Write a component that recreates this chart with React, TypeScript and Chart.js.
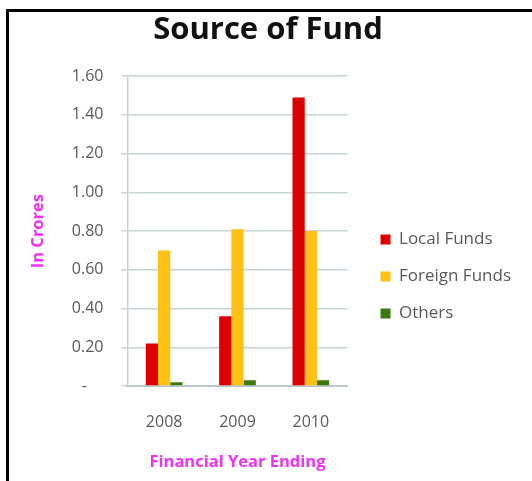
import React, { useEffect, useRef } from 'react';
import { Chart, registerables } from 'chart.js';

Chart.register(...registerables);

const years = ['2008', '2009', '2010'];
const localFunds = [0.22, 0.36, 1.49];
const foreignFunds = [0.7, 0.81, 0.8];
const others = [0.02, 0.03, 0.03];
const seriesNames = ['Local Funds', 'Foreign Funds', 'Others'];
const seriesColors = ['#DE0000', '#FFC114', '#3D7A0E'];
const yTickLabels = ['-', '0.20', '0.40', '0.60', '0.80', '1.00', '1.20', '1.40', '1.60'];
const Y_MAX = 1.6;
const Y_STEP = 0.2;

const FONT = "'Open Sans', 'DejaVu Sans', sans-serif";
const TEXT_GRAY = '#595959';
const GRID = '#C6D4D4';
const MAGENTA = '#F032F0';

const LEGEND_EXTRA = 5;
const LEGEND_DX = 13;
const LEGEND_DY = 36;

const legendNudge = {
  id: 'legendNudge',
  beforeLayout(chart: any) {
    const l = chart.legend;
    if (l && !l.__wrapped) {
      const orig = l.fit;
      l.fit = function () {
        orig.call(this);
        this.width += LEGEND_EXTRA;
      };
      l.__wrapped = true;
    }
  },
  afterLayout(chart: any) {
    const l = chart.legend;
    if (!l) return;
    l.left += LEGEND_DX;
    l.right += LEGEND_DX;
    l.top += LEGEND_DY;
    l.bottom += LEGEND_DY;
  },
};

export default function App() {
  const ref = useRef<HTMLCanvasElement | null>(null);

  useEffect(() => {
    if (!ref.current) return;
    const values = [localFunds, foreignFunds, others];
    const chart = new Chart(ref.current, {
      type: 'bar',
      data: {
        labels: years,
        datasets: seriesNames.map((name, i) => ({
          label: name,
          data: values[i],
          backgroundColor: seriesColors[i],
          borderWidth: 0,
          categoryPercentage: 0.5,
          barPercentage: 1.0,
        })),
      },
      plugins: [legendNudge],
      options: {
        responsive: false,
        animation: false,
        devicePixelRatio: 1,
        layout: { padding: { top: 0, left: 23, right: 19, bottom: 0 } },
        plugins: {
          title: {
            display: true,
            text: 'Source of Fund',
            color: '#111',
            font: { family: FONT, size: 31, weight: 'bold' },
            padding: { top: 12, bottom: 27 },
          },
          legend: {
            display: true,
            position: 'right',
            maxWidth: 240,
            labels: {
              boxWidth: 10,
              boxHeight: 10,
              padding: 20,
              color: TEXT_GRAY,
              font: { family: FONT, size: 17 },
            },
          },
          tooltip: { enabled: false },
        },
        scales: {
          x: {
            grid: {
              display: true,
              drawOnChartArea: false,
              drawTicks: true,
              tickLength: 27,
              tickColor: 'rgba(0,0,0,0)',
            },
            border: { display: true, color: '#BCCACA', width: 2 },
            ticks: {
              color: TEXT_GRAY,
              font: { family: FONT, size: 16 },
              padding: 0,
            },
            title: {
              display: true,
              text: 'Financial Year Ending',
              color: MAGENTA,
              font: { family: FONT, size: 16.5, weight: 'bold' },
              padding: { top: 20, bottom: 9 },
            },
          },
          y: {
            min: 0,
            max: Y_MAX,
            grid: { color: GRID, lineWidth: 1.5, drawTicks: true, tickLength: 6 },
            border: { display: true, color: GRID, width: 1.5 },
            ticks: {
              stepSize: Y_STEP,
              color: TEXT_GRAY,
              font: { family: FONT, size: 16 },
              padding: 18,
              callback: (v: any) => {
                const label = yTickLabels[Math.round(Number(v) / Y_STEP)];
                return label === '-' ? '-    ' : label;
              },
            },
            title: {
              display: true,
              text: 'In Crores',
              color: MAGENTA,
              font: { family: FONT, size: 16.5, weight: 'bold' },
              padding: { top: 5, bottom: 6 },
            },
          },
        },
      },
    } as any);
    return () => chart.destroy();
  }, []);

  return (
    <div style={{ position: 'absolute', left: 0, top: 0, width: 532, height: 481, background: '#fff', overflow: 'hidden' }}>
      <div
        style={{
          position: 'absolute',
          left: 6,
          top: 9,
          width: 600,
          height: 600,
          borderLeft: '3px solid #000',
          borderTop: '3px solid #000',
          boxSizing: 'border-box',
        }}
      />
      <canvas ref={ref} width={532} height={481} style={{ position: 'absolute', left: 0, top: 0, width: 532, height: 481 }} />
    </div>
  );
}
